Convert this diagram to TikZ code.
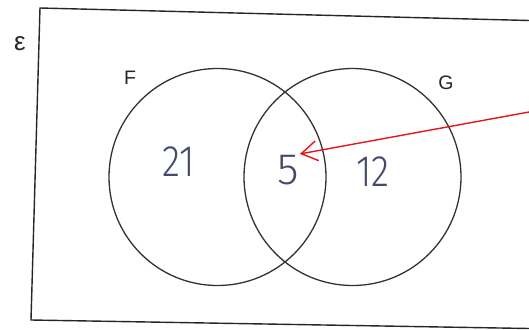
\documentclass[tikz,border=0pt]{standalone}
\usepackage{fontspec}
\setmainfont{Liberation Sans}
\newfontfamily\handfont{Fira Sans Light}
\usetikzlibrary{arrows.meta}
\definecolor{ink}{HTML}{454B6C}
\definecolor{arrowred}{HTML}{E8141B}
\tikzset{
  setcircle/.style={draw=black!80, line width=1.3pt, circle, minimum size=217pt, inner sep=0pt},
  setlabel/.style={font=\fontsize{19.5}{19.5}\selectfont, text=black!85, inner sep=0pt},
  count/.style={font=\handfont\fontsize{44}{44}\selectfont, text=ink, inner sep=1pt},
  frame/.style={draw=black!85, line width=1.4pt},
  pointer/.style={draw=arrowred, line width=1.4pt, -{Straight Barb[length=16pt,width=20pt,line width=1.4pt]}}
}
\begin{document}
\begin{tikzpicture}[x=1pt,y=-1pt]
\useasboundingbox (0,0) rectangle (529,329);
\fill[white] (0,0) rectangle (529,329);
% universal set frame
\draw[frame] (529,20.5) -- (40,8) -- (31,320) -- (529,328.5);
% circles
\node[setcircle] (F) at (217.5,177) {};
\node[setcircle] (G) at (352.5,177) {};
% labels
\node[setlabel, font=\fontsize{26}{26}\selectfont] (eps) at (20,44) {ε};
\node[setlabel] (Flab) at (130,78) {F};
\node[setlabel] (Glab) at (446,83) {G};
% counts
\node[count, xscale=0.85] (n21) at (179,162) {21};
\node[count] (five) at (288,170) {5};
\node[count, xscale=0.85] (n12) at (373,172) {12};
% pointer
\coordinate (start) at (529,112);
\draw[pointer] (start) -- (five.north east);
\end{tikzpicture}
\end{document}
